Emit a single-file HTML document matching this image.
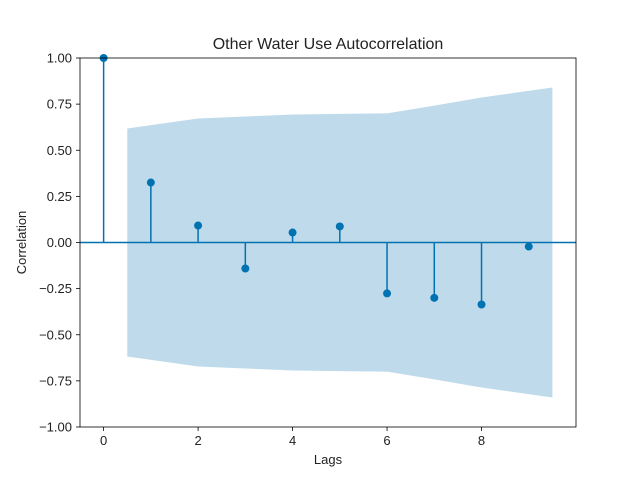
<!DOCTYPE html>
<html><head><meta charset="utf-8"><style>
body{margin:0;background:#fff;}
svg{display:block;font-family:"Liberation Sans","DejaVu Sans",sans-serif;}
</style></head><body>
<svg id="c" width="640" height="480"></svg>
<script>
const lags=[0,1,2,3,4,5,6,7,8,9];
const acfValues=[1.0,0.325,0.092,-0.141,0.054,0.087,-0.276,-0.30,-0.336,-0.022];
const bandLags=[0.5,2,3,4,5,6,7,8,9.5];
const bandUpper=[0.618,0.672,0.683,0.694,0.697,0.70,0.742,0.786,0.84];
const xTicks=[0,2,4,6,8];
const yTicks=[1.0,0.75,0.5,0.25,0,-0.25,-0.5,-0.75,-1.0];
const yTickLabels=["1.00","0.75","0.50","0.25","0.00","−0.25","−0.50","−0.75","−1.00"];
const L=80,R=576,T=58,B=427,C="#0072B2";
const X=v=>L+(v+0.5)/10.5*(R-L);
const Y=v=>T+(1-v)/2*(B-T);
const svg=document.getElementById('c');
const NS="http://www.w3.org/2000/svg";
function mk(t,a,p){const e=document.createElementNS(NS,t);for(const k in a)e.setAttribute(k,a[k]);(p||svg).appendChild(e);return e;}
// band
let d="";
bandLags.forEach((l,i)=>{d+=(i?"L":"M")+X(l)+","+Y(bandUpper[i]);});
for(let i=bandLags.length-1;i>=0;i--)d+="L"+X(bandLags[i])+","+Y(-bandUpper[i]);
const band=mk('path',{d:d+"Z",fill:"#bfdbeb"});


// zero line
const zl=mk('line',{x1:L,x2:R,y1:Y(0),y2:Y(0),stroke:C,"stroke-width":1.5});


// stems and points
lags.forEach((l,i)=>{
 const s=mk('line',{x1:X(l),x2:X(l),y1:Y(0),y2:Y(acfValues[i]),stroke:C,"stroke-width":1.5});
 
 
 const p=mk('circle',{cx:X(l),cy:Y(acfValues[i]),r:4,fill:C});
 
 
});
// frame
const fr=mk('rect',{x:L,y:T,width:R-L,height:B-T,fill:"none",stroke:"#000","stroke-width":0.8});


xTicks.forEach(v=>{
 mk('line',{x1:X(v),x2:X(v),y1:B,y2:B+4,stroke:"#000","stroke-width":0.8});
 const t=mk('text',{x:X(v),y:B+18,"text-anchor":"middle","font-size":13,fill:"#222"});t.textContent=v;
 
 
});
yTicks.forEach((v,i)=>{
 mk('line',{x1:L-4,x2:L,y1:Y(v),y2:Y(v),stroke:"#000","stroke-width":0.8});
 const t=mk('text',{x:L-8,y:Y(v)+4.5,"text-anchor":"end","font-size":13,fill:"#222"});t.textContent=yTickLabels[i];
 
 
});
const ti=mk('text',{x:(L+R)/2,y:T-9,"text-anchor":"middle","font-size":16,fill:"#222"});ti.textContent="Other Water Use Autocorrelation";


const xl=mk('text',{x:(L+R)/2,y:B+37,"text-anchor":"middle","font-size":13,fill:"#222"});xl.textContent="Lags";


const yl=mk('text',{x:26,y:(T+B)/2,"text-anchor":"middle","font-size":13,fill:"#222",transform:"rotate(-90 26 "+(T+B)/2+")"});yl.textContent="Correlation";


</script>
</body></html>
